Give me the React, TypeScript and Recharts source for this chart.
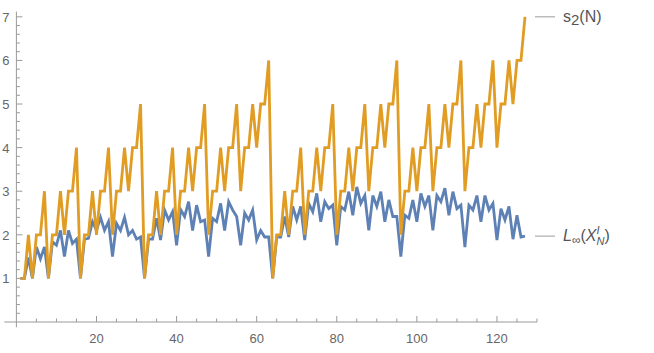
import React from 'react'
import { LineChart, Line, XAxis, YAxis, ReferenceLine } from 'recharts'

// N = 1..127
const nValues = Array.from({ length: 127 }, (_, i) => i + 1)

// s2(N), orange
const s2Values = [
  1, 1, 2, 1, 2, 2, 3, 1, 2, 2, 3, 2, 3, 3, 4,
  1, 2, 2, 3, 2, 3, 3, 4, 2, 3, 3, 4, 3, 4, 4, 5,
  1, 2, 2, 3, 2, 3, 3, 4, 2, 3, 3, 4, 3, 4, 4, 5, 2, 3, 3, 4, 3, 4, 4, 5, 3, 4, 4, 5, 4, 5, 5, 6,
  1, 2, 2, 3, 2, 3, 3, 4, 2, 3, 3, 4, 3, 4, 4, 5, 2, 3, 3, 4, 3, 4, 4, 5, 3, 4, 4, 5, 4, 5, 5, 6,
  2, 3, 3, 4, 3, 4, 4, 5, 3, 4, 4, 5, 4, 5, 5, 6, 3, 4, 4, 5, 4, 5, 5, 6, 4, 5, 5, 6, 5, 6, 6, 7,
]

// L_inf(X_N^I), blue
const lInfValues = [
  1, 1, 1.48, 1, 1.72, 1.45, 1.72, 1, 1.84, 1.76, 2.1, 1.5, 2.1, 1.8, 1.9, 1,
  1.9, 1.92, 2.3, 2.1, 2.4, 2.1, 2.3, 1.5, 2.26, 2.1, 2.4, 2.0, 2.1, 1.9, 1.95, 1,
  1.9, 1.9, 2.38, 1.88, 2.57, 2.34, 2.53, 1.76, 2.58, 2.42, 2.76, 2.1, 2.68, 2.3, 2.34, 1.5,
  2.38, 2.3, 2.72, 2.1, 2.76, 2.57, 2.42, 1.76, 2.5, 2.34, 2.57, 1.88, 2.1, 1.95, 1.95, 1,
  1.95, 1.95, 2.42, 1.95, 2.65, 2.34, 2.65, 1.88, 2.72, 2.53, 2.95, 2.3, 2.76, 2.6, 2.68, 1.76,
  2.65, 2.57, 2.99, 2.45, 3.1, 2.72, 2.9, 2.1, 2.9, 2.65, 2.99, 2.3, 2.8, 2.42, 2.42, 1.5,
  2.45, 2.38, 2.8, 2.3, 2.95, 2.65, 2.9, 2.1, 2.9, 2.76, 3.07, 2.45, 2.99, 2.6, 2.68, 1.72,
  2.68, 2.57, 2.9, 2.3, 2.9, 2.57, 2.72, 1.88, 2.6, 2.34, 2.65, 1.9, 2.45, 1.95, 1.97,
]

const xMajor = [20, 40, 60, 80, 100, 120]
const xTicks = Array.from({ length: 26 }, (_, i) => (i + 1) * 5)
const yMajor = [1, 2, 3, 4, 5, 6, 7]
const yTicks = Array.from({ length: 35 }, (_, i) => (i + 1) / 5)

const data = nValues.map((n, i) => ({ n, s2: s2Values[i], linf: lInfValues[i] }))
const last = data.length - 1

const AXIS = '#9a9a9a'
const TICK_TEXT = '#666'
const ORANGE = '#E19C24'
const BLUE = '#5E81B5'
const FONT = '"Liberation Sans", Arial, sans-serif'

const XTick = ({ x, y, payload }: any) => {
  const major = xMajor.includes(payload.value)
  return (
    <g>
      <line x1={x} x2={x} y1={y} y2={y - (major ? 6 : 3.5)} stroke={AXIS} strokeWidth={1} />
      {major && (
        <text x={x} y={y + 21} textAnchor="middle" fontSize={13} fill={TICK_TEXT} fontFamily={FONT}>
          {payload.value}
        </text>
      )}
    </g>
  )
}

const YTick = ({ x, y, payload }: any) => {
  const major = yMajor.includes(payload.value)
  return (
    <g>
      <line x1={x} x2={x + (major ? 6 : 3.5)} y1={y} y2={y} stroke={AXIS} strokeWidth={1} />
      {major && (
        <text x={x - 7} y={y + 5} textAnchor="end" fontSize={13} fill={TICK_TEXT} fontFamily={FONT}>
          {payload.value}
        </text>
      )}
    </g>
  )
}

const S2Label = (props: any) => {
  const { cx, cy, index } = props
  if (index !== last) return <g key={index} />
  return (
    <g key={index}>
      <line x1={cx + 10} x2={cx + 30} y1={cy} y2={cy} stroke={AXIS} strokeWidth={1} />
      <text x={cx + 38} y={cy + 5} fontSize={16} fill="#555" fontFamily={FONT}>
        <tspan>s</tspan>
        <tspan fontSize={15} dy={3}>2</tspan>
        <tspan dy={-3}>(N)</tspan>
      </text>
    </g>
  )
}

const LInfLabel = (props: any) => {
  const { cx, cy, index } = props
  if (index !== last) return <g key={index} />
  return (
    <g key={index}>
      <line x1={cx + 10} x2={cx + 30} y1={cy} y2={cy} stroke={AXIS} strokeWidth={1} />
      <text x={cx + 38} y={cy + 5} fontSize={16} fill="#555" fontFamily={FONT}>
        <tspan fontStyle="italic">L</tspan>
        <tspan fontSize={12} dy={3}>∞</tspan>
        <tspan dy={-3}>(</tspan>
        <tspan fontStyle="italic">X</tspan>
        <tspan fontStyle="italic" fontSize={11} dy={-7}>I</tspan>
        <tspan fontStyle="italic" fontSize={11} dx={-3} dy={11}>N</tspan>
        <tspan dy={-4}>)</tspan>
      </text>
    </g>
  )
}

export default function App() {
  return (
    <div style={{ position: 'absolute', left: 0, top: 0, background: '#fff' }}>
      <LineChart
        width={654}
        height={353}
        data={data}
        margin={{ top: 11.6, right: 117, bottom: 0, left: 0 }}
      >
        <XAxis
          dataKey="n"
          type="number"
          domain={[0, 130]}
          ticks={xTicks}
          interval={0}
          height={31}
          axisLine={{ stroke: AXIS }}
          tickLine={false}
          tickSize={0}
          tickMargin={0}
          tick={<XTick />}
        />
        <YAxis
          type="number"
          domain={[0, 7.12]}
          ticks={yTicks}
          interval={0}
          width={16.4}
          axisLine={{ stroke: AXIS }}
          tickLine={false}
          tickSize={0}
          tickMargin={0}
          tick={<YTick />}
        />
        <ReferenceLine
          segment={[{ x: -3, y: 0 }, { x: 0, y: 0 }]}
          stroke={AXIS}
          ifOverflow="visible"
        />
        <ReferenceLine
          segment={[{ x: 0, y: -0.12 }, { x: 0, y: 0 }]}
          stroke={AXIS}
          ifOverflow="visible"
        />
        <Line
          type="linear"
          dataKey="linf"
          stroke={BLUE}
          strokeWidth={2.8}
          dot={LInfLabel}
          activeDot={false}
          isAnimationActive={false}
        />
        <Line
          type="linear"
          dataKey="s2"
          stroke={ORANGE}
          strokeWidth={2.8}
          dot={S2Label}
          activeDot={false}
          isAnimationActive={false}
        />
      </LineChart>
    </div>
  )
}
